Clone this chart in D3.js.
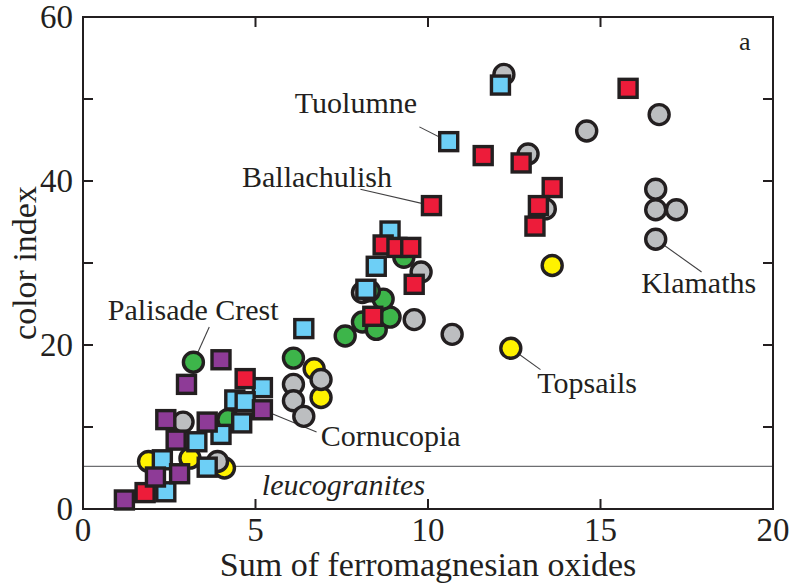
<!DOCTYPE html>
<html>
<head>
<meta charset="utf-8">
<script src="https://cdn.jsdelivr.net/npm/d3@7"></script>
<style>
  html, body { margin: 0; padding: 0; background: #fff; }
  svg { display: block; }
  text { font-family: "Liberation Serif", "DejaVu Serif", serif; fill: #231f20; }
</style>
</head>
<body>
<svg id="chart" width="795" height="584"></svg>
<script>
// Sum of ferromagnesian oxides (x) vs color index (y), per pluton group
const klamathsGray = [[12.2,53.0],[14.6,46.1],[16.7,48.1],[16.6,39.0],[16.6,36.5],[17.2,36.5],[16.6,32.9],
  [12.9,43.3],[13.4,36.6],[9.8,28.9],[9.6,23.1],[10.7,21.3],[8.1,26.4],[6.1,15.2],[6.9,15.8],
  [6.1,13.2],[6.4,11.3],[2.9,10.6],[3.9,5.8]];
const topsailsYellow = [[13.6,29.7],[12.4,19.6],[6.7,17.1],[6.9,13.6],[4.1,5.0],[3.1,6.2],[1.9,5.8]];
const palisadeGreen = [[3.2,17.9],[6.1,18.4],[7.6,21.1],[8.1,22.8],[8.5,21.9],[8.9,23.4],[8.7,25.6],
  [9.3,30.7],[8.3,26.6],[4.2,10.9]];
const tuolumneBlue = [[12.1,51.7],[10.6,44.8],[8.9,33.9],[8.5,29.6],[8.2,26.8],[6.4,22.0],[5.2,14.8],
  [4.4,13.3],[4.7,13.1],[4.6,10.5],[4.0,9.1],[3.3,8.2],[2.3,6.0],[3.6,5.1],[2.4,2.1]];
const ballachulishRed = [[15.8,51.3],[11.6,43.1],[12.7,42.2],[13.6,39.2],[13.2,37.0],[13.1,34.5],
  [10.1,37.0],[8.7,32.2],[9.1,31.9],[9.5,31.9],[9.6,27.4],[8.4,23.5],[4.7,15.9],[1.8,2.0]];
const cornucopiaPurple = [[4.0,18.2],[3.0,15.2],[5.2,12.1],[2.4,10.9],[3.6,10.6],[2.7,8.4],[2.1,3.9],
  [2.8,4.3],[1.2,1.1]];

const xTicks = [0, 5, 10, 15, 20];
const yTicks = [0, 20, 40, 60];
const yMinorTicks = [10, 30, 50];
const leucograniteLimit = 5.2;

// Label text, anchor (left, baseline) and the point each leader runs to
const labels = [
  { text: "Tuolumne",       at: [6.14, 48.3], from: [9.75, 46.6],  to: [10.6, 44.8] },
  { text: "Ballachulish",   at: [4.61, 39.3], from: [8.04, 39.0],  to: [10.1, 37.0] },
  { text: "Palisade Crest", at: [0.72, 23.1], from: [3.66, 22.2],  to: [3.2, 17.9] },
  { text: "Cornucopia",     at: [6.89, 7.7],  from: [6.77, 9.4],   to: [5.2, 12.1] },
  { text: "Topsails",       at: [13.17, 14.1], from: [13.26, 17.0], to: [12.4, 19.6] },
  { text: "Klamaths",       at: [16.18, 26.4], from: [17.93, 28.9], to: [16.6, 32.9] }
];

const ink = "#231f20";
const svg = d3.select("#chart");
const plotL = 83, plotR = 773, plotT = 17, plotB = 509;

const x = d3.scaleLinear().domain([0, 20]).range([plotL, plotR]);
const y = d3.scaleLinear().domain([0, 60]).range([plotB, plotT]);

// leucogranite boundary
svg.append("line")
  .attr("x1", x(0)).attr("x2", x(20))
  .attr("y1", y(leucograniteLimit)).attr("y2", y(leucograniteLimit))
  .attr("stroke", "#6d6e71").attr("stroke-width", 1.3);

svg.append("text")
  .attr("x", x(7.55)).attr("y", y(1.7))
  .attr("text-anchor", "middle")
  .attr("font-size", 30).attr("font-style", "italic")
  .text("leucogranites");

// leader lines under the markers
svg.append("g").selectAll("line").data(labels).join("line")
  .attr("x1", d => x(d.from[0])).attr("y1", d => y(d.from[1]))
  .attr("x2", d => x(d.to[0])).attr("y2", d => y(d.to[1]))
  .attr("stroke", "#414042").attr("stroke-width", 1.1);

const circleR = 10, squareS = 18, strokeW = 3.4;

function circles(data, fill) {
  svg.append("g").selectAll("circle").data(data).join("circle")
    .attr("cx", d => x(d[0])).attr("cy", d => y(d[1])).attr("r", circleR)
    .attr("fill", fill).attr("stroke", ink).attr("stroke-width", strokeW);
}
function squares(data, fill) {
  svg.append("g").selectAll("rect").data(data).join("rect")
    .attr("x", d => x(d[0]) - squareS / 2).attr("y", d => y(d[1]) - squareS / 2)
    .attr("width", squareS).attr("height", squareS)
    .attr("fill", fill).attr("stroke", ink).attr("stroke-width", strokeW);
}

circles(topsailsYellow, "#fff200");
circles(klamathsGray, "#bcbec0");
circles(palisadeGreen, "#3db54a");
squares(tuolumneBlue, "#6dcff6");
squares(ballachulishRed, "#ed1c3a");
squares(cornucopiaPurple, "#8e3b97");

// group labels
svg.append("g").selectAll("text").data(labels).join("text")
  .attr("x", d => x(d.at[0])).attr("y", d => y(d.at[1]))
  .attr("font-size", 30)
  .text(d => d.text);

// frame
svg.append("rect")
  .attr("x", plotL).attr("y", plotT).attr("width", plotR - plotL).attr("height", plotB - plotT)
  .attr("fill", "none").attr("stroke", ink).attr("stroke-width", 2);

// inward ticks on all four sides
const tickLen = 10;
const xInner = xTicks.slice(1, -1);
const yInner = yTicks.slice(1, -1).concat(yMinorTicks);
const tg = svg.append("g").attr("stroke", ink).attr("stroke-width", 2);
tg.selectAll(".tb").data(xInner).join("line").attr("class", "tb")
  .attr("x1", d => x(d)).attr("x2", d => x(d)).attr("y1", plotB).attr("y2", plotB - tickLen);
tg.selectAll(".tt").data(xInner).join("line").attr("class", "tt")
  .attr("x1", d => x(d)).attr("x2", d => x(d)).attr("y1", plotT).attr("y2", plotT + tickLen);
tg.selectAll(".tl").data(yInner).join("line").attr("class", "tl")
  .attr("x1", plotL).attr("x2", plotL + tickLen).attr("y1", d => y(d)).attr("y2", d => y(d));
tg.selectAll(".tr").data(yInner).join("line").attr("class", "tr")
  .attr("x1", plotR).attr("x2", plotR - tickLen).attr("y1", d => y(d)).attr("y2", d => y(d));

// tick labels
svg.append("g").selectAll("text").data(xTicks).join("text")
  .attr("x", d => x(d)).attr("y", plotB + 32)
  .attr("text-anchor", "middle").attr("font-size", 33)
  .text(d => d);
svg.append("g").selectAll("text").data(yTicks).join("text")
  .attr("x", plotL - 10).attr("y", d => y(d) + 11)
  .attr("text-anchor", "end").attr("font-size", 33)
  .text(d => d);

// axis titles
svg.append("text")
  .attr("x", (plotL + plotR) / 2).attr("y", 576)
  .attr("text-anchor", "middle").attr("font-size", 34)
  .text("Sum of ferromagnesian oxides");
svg.append("text")
  .attr("transform", `translate(36, ${(plotT + plotB) / 2}) rotate(-90)`)
  .attr("text-anchor", "middle").attr("font-size", 34)
  .text("color index");

// panel letter
svg.append("text")
  .attr("x", 739).attr("y", 50).attr("font-size", 26)
  .text("a");
</script>
</body>
</html>
